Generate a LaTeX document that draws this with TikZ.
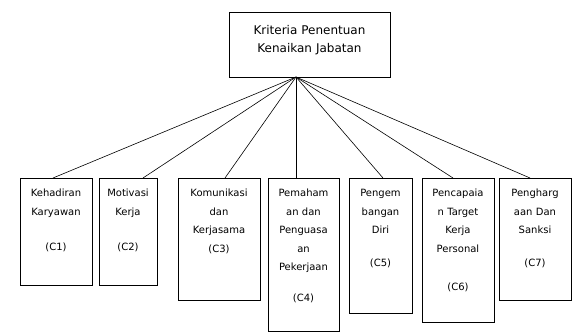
\documentclass[tikz,border=0pt]{standalone}
\usepackage{fontspec}
\setmainfont{DejaVu Sans}
\usetikzlibrary{calc}
\begin{document}
\begin{tikzpicture}[x=1pt, y=-1pt,
                    knode/.style = {shape = rectangle,
                                    draw,
                                    color = black,
                                    line width = 0.8pt,
                                    inner sep = 0pt,
                                    anchor = north,
                                    align = center,
                                    text height = 18.5pt,
                                    font = \fontsize{10}{18.5}\selectfont},
                    tnode/.style = {knode,
                                    text width = 161pt,
                                    text height = 22.5pt,
                                    text depth = 42.5pt,
                                    font = \fontsize{12}{18}\selectfont}]
		\useasboundingbox (0,0) rectangle (576,334);
		\node[tnode] (top) at (309.5,12) {Kriteria Penentuan\\Kenaikan Jabatan};
		\coordinate (apex) at (296,77);
		\node[knode, text width = 72pt, text depth = 88.5pt] (c1) at (56,178)
			{Kehadiran\\Karyawan\\[17pt](C1)};
		\node[knode, text width = 58pt, text depth = 88.5pt] (c2) at (128,178)
			{Motivasi\\Kerja\\[17pt](C2)};
		\node[knode, text width = 82pt, text depth = 103.5pt] (c3) at (219,178)
			{Komunikasi\\dan\\Kerjasama\\(C3)};
		\node[knode, text width = 71pt, text depth = 134.5pt] (c4) at (303.5,178)
			{Pemaham\\an dan\\Penguasa\\an\\Pekerjaan\\[12pt](C4)};
		\node[knode, text width = 63pt, text depth = 116.5pt] (c5) at (380.5,178)
			{Pengem\\bangan\\Diri\\[14pt](C5)};
		\node[knode, text width = 72pt, text depth = 125.5pt] (c6) at (458,178)
			{Pencapaia\\n Target\\Kerja\\Personal\\[20pt](C6)};
		\node[knode, text width = 72pt, text depth = 103.5pt] (c7) at (535,178)
			{Pengharg\\aan Dan\\Sanksi\\[14pt](C7)};
		\path[line width = 0.6pt] (apex) edge ($(c1.north)+(-3,0)$);
		\path[line width = 0.6pt] (apex) edge ($(c2.north)+(15,0)$);
		\path[line width = 0.6pt] (apex) edge ($(c3.north)+(6,0)$);
		\path[line width = 0.6pt] (apex) edge (apex |- c4.north);
		\path[line width = 0.6pt] (apex) edge ($(c5.north)+(2.5,0)$);
		\path[line width = 0.6pt] (apex) edge ($(c6.north)+(-5,0)$);
		\path[line width = 0.6pt] (apex) edge ($(c7.north)+(-5,0)$);
	\end{tikzpicture}
\end{document}
